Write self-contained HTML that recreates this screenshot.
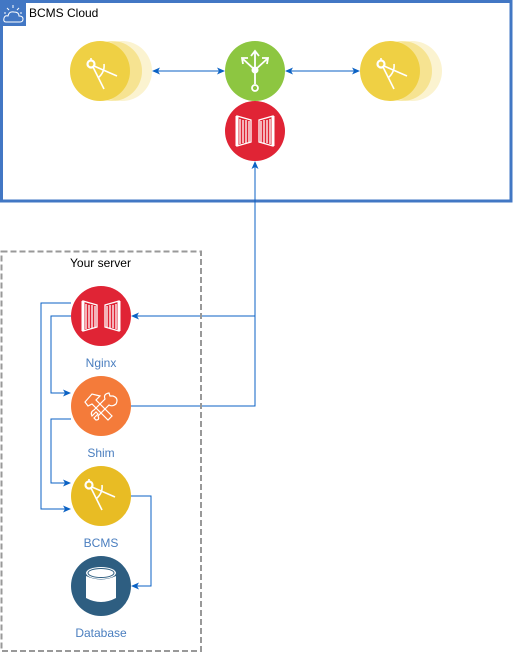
<!DOCTYPE html>
<html><head><meta charset="utf-8"><style>
html,body{margin:0;padding:0;background:#fff;width:513px;height:653px;overflow:hidden}
svg{display:block}
text{font-family:"Liberation Sans",sans-serif;font-size:12px}
</style></head><body>
<svg width="513" height="653" viewBox="0 0 513 653">
<defs>
<marker id="a" markerWidth="8" markerHeight="8" refX="7" refY="4" orient="auto" markerUnits="userSpaceOnUse">
<path d="M0,0.5 L8,4 L0,7.5 L2,4 Z" fill="#0b62c4"/></marker>
<marker id="as" markerWidth="8" markerHeight="8" refX="1" refY="4" orient="auto" markerUnits="userSpaceOnUse">
<path d="M8,0.5 L0,4 L8,7.5 L6,4 Z" fill="#0b62c4"/></marker>
<g id="compass" fill="none" stroke="#fff" stroke-width="1.6">
<circle cx="-10" cy="-8" r="3.5" stroke-width="2.2"/>
<line x1="-10" y1="-14" x2="-10" y2="-12"/>
<line x1="-8" y1="-5" x2="3" y2="17"/>
<line x1="-7" y1="-6" x2="16" y2="4"/>
<path d="M3,-8 Q4,0 -3,6"/>
</g>
<g id="gate" fill="none" stroke="#fff" stroke-width="1.3">
<path d="M-18,-15 L-18,15 L-4,11 L-4,-11 Z"/>
<line x1="-15" y1="-12" x2="-15" y2="13"/><line x1="-12" y1="-11" x2="-12" y2="12"/><line x1="-9" y1="-11" x2="-9" y2="12"/><line x1="-6" y1="-10" x2="-6" y2="11"/>
<path d="M18,-15 L18,15 L4,11 L4,-11 Z"/>
<line x1="15" y1="-12" x2="15" y2="13"/><line x1="12" y1="-11" x2="12" y2="12"/><line x1="9" y1="-11" x2="9" y2="12"/><line x1="6" y1="-10" x2="6" y2="11"/>
<line x1="-18" y1="-15" x2="-18" y2="15" stroke-width="3"/><line x1="18" y1="-15" x2="18" y2="15" stroke-width="3"/>
</g>
</defs>

<!-- Cloud box -->
<rect x="1.5" y="1.5" width="509.5" height="199.5" fill="none" stroke="#4277c4" stroke-width="3"/>
<rect x="0" y="0" width="26" height="26" fill="#4277c4"/>
<g fill="none" stroke="#fff" stroke-width="1">
<path d="M6,22 Q3,22 4,18 Q5,15 8,16 Q9,11 14,12 Q19,12 19,16 Q23,16 23,19 Q23,22 20,22 Z"/>
<line x1="13" y1="5" x2="13" y2="8"/><line x1="7" y1="8" x2="9" y2="10"/><line x1="19" y1="8" x2="17" y2="10"/><line x1="4" y1="13" x2="6" y2="13"/><line x1="22" y1="13" x2="20" y2="13"/>
</g>
<text x="29" y="17" font-size="12" fill="#000">BCMS Cloud</text>

<!-- left stack -->
<circle cx="122" cy="71" r="30" fill="#efd044" opacity="0.25"/>
<circle cx="112" cy="71" r="30" fill="#efd044" opacity="0.45"/>
<circle cx="100" cy="71" r="30" fill="#efd044"/>
<use href="#compass" x="101" y="72"/>
<!-- right stack -->
<circle cx="412" cy="71" r="30" fill="#efd044" opacity="0.25"/>
<circle cx="402" cy="71" r="30" fill="#efd044" opacity="0.45"/>
<circle cx="390" cy="71" r="30" fill="#efd044"/>
<use href="#compass" x="391" y="72"/>

<!-- green -->
<circle cx="255" cy="71" r="30" fill="#8dc641"/>
<g fill="none" stroke="#fff" stroke-width="1.8">
<line x1="255" y1="52" x2="255" y2="84"/>
<path d="M251,56 L255,51 L259,56"/>
<line x1="255" y1="70" x2="243" y2="59"/><path d="M243,64 L242,58 L248,58"/>
<line x1="255" y1="70" x2="267" y2="59"/><path d="M267,64 L268,58 L262,58"/>
<circle cx="255" cy="88" r="3"/>
</g>
<circle cx="255" cy="70" r="3.5" fill="#fff"/>
<!-- red -->
<circle cx="255" cy="131" r="30" fill="#e02435"/>
<use href="#gate" x="255" y="131"/>

<g stroke="#0b62c4" stroke-width="1" fill="none">
<line x1="153" y1="71" x2="224" y2="71" marker-start="url(#as)" marker-end="url(#a)"/>
<line x1="286" y1="71" x2="359" y2="71" marker-start="url(#as)" marker-end="url(#a)"/>
<polyline points="255,316 255,162" marker-end="url(#a)"/>
<polyline points="255,316 132,316" marker-end="url(#a)"/>
<polyline points="131,406 255,406 255,316"/>
<polyline points="71,303 41,303 41,509 70,509" marker-end="url(#a)"/>
<polyline points="71,316 51,316 51,393 70,393" marker-end="url(#a)"/>
<polyline points="71,419 51,419 51,483 70,483" marker-end="url(#a)"/>
<polyline points="131,496 151,496 151,586 132,586" marker-end="url(#a)"/>
</g>

<!-- server box -->
<rect x="1.5" y="251.5" width="199.5" height="399.5" fill="none" stroke="#999" stroke-width="2" stroke-dasharray="6,3"/>
<text x="100.5" y="267" text-anchor="middle" fill="#000">Your server</text>

<circle cx="101" cy="316" r="30" fill="#e02435"/>
<use href="#gate" x="101" y="316"/>
<text x="101" y="367" text-anchor="middle" fill="#4a7ebf">Nginx</text>

<circle cx="101" cy="406" r="30" fill="#f47b3a"/>
<g fill="none" stroke="#fff" stroke-width="1.2">
<path d="M85,402 L92,394 L100,396 L96,400 L112,416 L108,420 L92,404 L88,406 Z"/>
<path d="M113,396 Q119,398 116,404 Q112,407 109,405 L98,416 Q100,420 96,420 L94,418 L98,414 L96,412 L92,416 Q90,412 94,410 L105,399 Q103,394 109,393 L110,396 Z"/>
</g>
<text x="101" y="457" text-anchor="middle" fill="#4a7ebf">Shim</text>

<circle cx="101" cy="496" r="30" fill="#e8bc24"/>
<use href="#compass" x="99" y="493"/>
<text x="101" y="547" text-anchor="middle" fill="#4a7ebf">BCMS</text>

<circle cx="101" cy="586" r="30" fill="#2e5e81"/>
<g fill="#fff"><ellipse cx="101" cy="573" rx="15" ry="6"/>
<path d="M86,576 Q101,583 116,576 L116,598 Q101,606 86,598 Z"/></g>
<ellipse cx="101" cy="573" rx="13" ry="4.5" fill="none" stroke="#2e5e81" stroke-width="1"/>
<text x="101" y="637" text-anchor="middle" fill="#4a7ebf">Database</text>
</svg>
</body></html>
